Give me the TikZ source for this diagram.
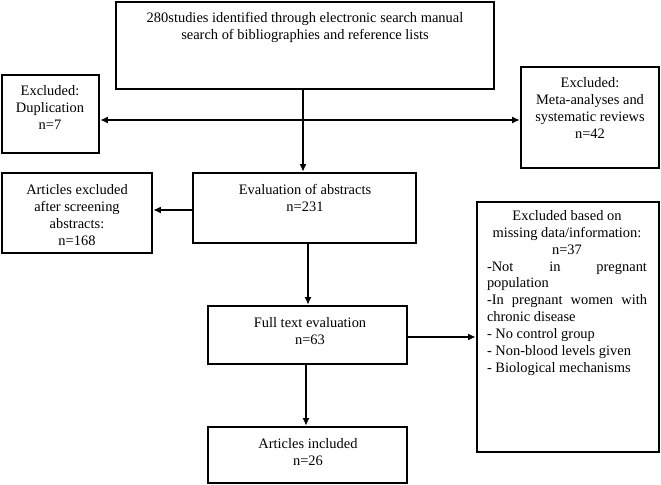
\documentclass[tikz,border=0pt]{standalone}
\usepackage{fontspec}
\setmainfont{Liberation Serif}
\usetikzlibrary{arrows.meta}
\begin{document}
\begin{tikzpicture}[x=1bp,y=-1bp,
  box/.style 2 args={draw, line width=2.8bp, inner sep=0pt, minimum width=#1bp, minimum height=#2bp},
  txt/.style={inner sep=0pt, align=center, anchor=north, font=\fontsize{14.5}{17}\selectfont},
  arr/.style={line width=1.2bp, >={Latex[length=7.5bp,width=7bp]}}]
\useasboundingbox (0,0) rectangle (661,485);
% boxes
\node[box={378}{87}]  (top)     at (305,45.5) {};
\node[box={97}{78}]   (dup)     at (50.5,114) {};
\node[box={138}{101}] (meta)    at (590,117.5) {};
\node[box={223}{70}]  (eval)    at (304.5,208) {};
\node[box={150}{80}]  (artexcl) at (77,213) {};
\node[box={199}{58}]  (full)    at (307.5,335) {};
\node[box={182}{250}] (miss)    at (568,327) {};
\node[box={199}{56}]  (incl)    at (307.5,455) {};
% texts
\node[txt] (top-t) at (305,12) {280studies identified through electronic search manual\\search of bibliographies and reference lists};
\node[txt] (dup-t) at (50,85) {Excluded:\\Duplication\\n=7};
\node[txt] (meta-t) at (590,77) {Excluded:\\Meta-analyses and\\systematic reviews\\n=42};
\node[txt] (eval-t) at (305,184) {Evaluation of abstracts\\n=231};
\node[txt] (artexcl-t) at (77,184) {Articles excluded\\after screening\\abstracts:\\n=168};
\node[txt] (full-t) at (310,317) {Full text evaluation\\n=63};
\node[txt] (incl-t) at (308,438) {Articles included\\n=26};
\node[txt, align=left] (miss-t) at (567,210) {\parbox[t]{160bp}{\centering
  Excluded based on\\missing data/information:\\n=37\par
  \raggedright
  \hbox to\linewidth{-Not\hfill in\hfill pregnant}
  population\par
  \hbox to\linewidth{-In\hfill pregnant\hfill women\hfill with}
  chronic disease\\- No control group\\- Non-blood levels given\\- Biological mechanisms}};
% guide coordinates
\coordinate (y1) at (0,120);
\coordinate (y2) at (0,210);
\coordinate (y4) at (0,337);
\coordinate (x0) at (303,0);
\coordinate (x3) at (308,0);
\coordinate (x5) at (306,0);
% connectors
\draw[arr,->] (x0 |- top.south) -- (x0 |- eval.north);
\draw[arr,<->] (dup.east |- y1) -- (meta.west |- y1);
\draw[arr,->] (eval.west |- y2) -- (artexcl.east |- y2);
\draw[arr,->] (x3 |- eval.south) -- (x3 |- full.north);
\draw[arr,->] (full.east |- y4) -- (miss.west |- y4);
\draw[arr,->] (x5 |- full.south) -- (x5 |- incl.north);
\end{tikzpicture}
\end{document}
